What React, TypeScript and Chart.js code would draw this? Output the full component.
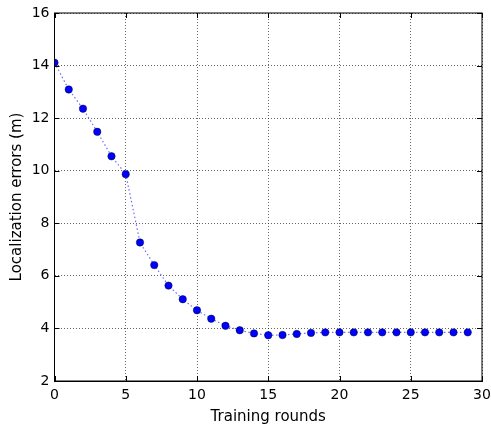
import React, { useEffect, useRef } from "react";
import { Chart, registerables } from "chart.js";

Chart.register(...registerables);

const rounds: number[] = [0,1,2,3,4,5,6,7,8,9,10,11,12,13,14,15,16,17,18,19,20,21,22,23,24,25,26,27,28,29];
const errors: number[] = [14.11,13.09,12.36,11.48,10.55,9.87,7.27,6.41,5.63,5.11,4.69,4.37,4.10,3.93,3.81,3.74,3.75,3.79,3.83,3.85,3.85,3.85,3.85,3.85,3.85,3.85,3.85,3.85,3.85,3.85];
const xTicks: number[] = [0,5,10,15,20,25,30];
const yTicks: number[] = [2,4,6,8,10,12,14,16];
const xTitle = "Training rounds";
const yTitle = "Localization errors (m)";

const FONT = "'DejaVu Sans', sans-serif";

const framePlugin = {
  id: "frameTicks",
  afterDraw(chart: any) {
    const { ctx, chartArea } = chart;
    const { left, right, top, bottom } = chartArea;
    const xs = chart.scales.x;
    const ys = chart.scales.y;
    ctx.save();
    ctx.strokeStyle = "#000";
    ctx.lineWidth = 1;
    ctx.setLineDash([]);
    ctx.strokeRect(left, top, right - left, bottom - top);
    const L = 5;
    ctx.beginPath();
    xTicks.forEach((v) => {
      const px = Math.round(xs.getPixelForValue(v)) + 0.5;
      ctx.moveTo(px, bottom);
      ctx.lineTo(px, bottom - L);
      ctx.moveTo(px, top);
      ctx.lineTo(px, top + L);
    });
    yTicks.forEach((v) => {
      const py = Math.round(ys.getPixelForValue(v)) + 0.5;
      ctx.moveTo(left, py);
      ctx.lineTo(left + L, py);
      ctx.moveTo(right, py);
      ctx.lineTo(right - L, py);
    });
    ctx.stroke();
    ctx.restore();
  },
};

export default function App() {
  const ref = useRef<HTMLCanvasElement | null>(null);
  useEffect(() => {
    document.body.style.margin = "0";
    const canvas = ref.current;
    if (!canvas) return;
    const chart = new Chart(canvas, {
      type: "line",
      data: {
        datasets: [
          {
            data: rounds.map((r, i) => ({ x: r, y: errors[i] })),
            borderColor: "rgba(60,60,255,0.75)",
            borderWidth: 1.2,
            borderDash: [1.5, 2.5],
            pointBackgroundColor: "#0000ff",
            pointBorderColor: "#000033",
            pointBorderWidth: 0.5,
            pointRadius: 3.7,
            clip: 0,
            tension: 0,
          } as any,
        ],
      },
      options: {
        animation: false,
        responsive: false,
        maintainAspectRatio: false,
        devicePixelRatio: 1,
        layout: { padding: { left: 0, right: 9, top: 13, bottom: 0 } },
        plugins: { legend: { display: false }, tooltip: { enabled: false } },
        scales: {
          x: {
            type: "linear",
            min: 0,
            max: 30,
            afterBuildTicks: (s: any) => {
              s.ticks = xTicks.map((v) => ({ value: v }));
            },
            afterFit: (s: any) => {
              s.height = 47;
              s.paddingLeft = 0;
              s.paddingRight = 0;
            },
            grid: { color: "rgba(0,0,0,0.6)", lineWidth: 1, drawTicks: false },
            border: { display: true, color: "#000", dash: [1, 2] },
            ticks: { color: "#000", padding: 6, font: { family: FONT, size: 14 }, maxRotation: 0 },
            title: { display: true, text: xTitle, color: "#000", font: { family: FONT, size: 15 }, padding: { top: 0, bottom: 2 } },
          },
          y: {
            type: "linear",
            min: 2,
            max: 16,
            afterBuildTicks: (s: any) => {
              s.ticks = yTicks.map((v) => ({ value: v }));
            },
            afterFit: (s: any) => {
              s.width = 54.5;
              s.paddingTop = 0;
              s.paddingBottom = 0;
            },
            grid: { color: "rgba(0,0,0,0.6)", lineWidth: 1, drawTicks: false },
            border: { display: true, color: "#000", dash: [1, 2] },
            ticks: { color: "#000", padding: 5, font: { family: FONT, size: 14 } },
            title: { display: true, text: yTitle, color: "#000", font: { family: FONT, size: 15 }, padding: { top: 8, bottom: 0 } },
          },
        },
      },
      plugins: [framePlugin],
    });
    return () => chart.destroy();
  }, []);
  return (
    <div style={{ position: "absolute", left: 0, top: 0, width: 491, height: 428, background: "#fff" }}>
      <canvas ref={ref} width={491} height={428} style={{ width: 491, height: 428 }} />
    </div>
  );
}
